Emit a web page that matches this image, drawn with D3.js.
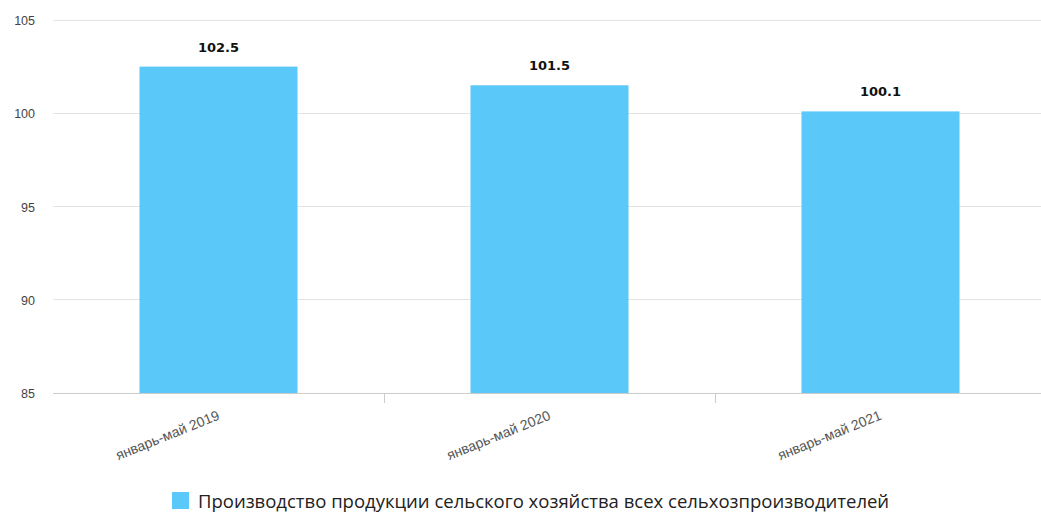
<!DOCTYPE html>
<html><head><meta charset="utf-8">
<script src="https://cdn.jsdelivr.net/npm/d3@7"></script>
<style>body{margin:0;background:#fff;}svg{display:block;}</style>
</head><body>
<svg id="c" width="1041" height="514"></svg>
<script>
const categories = ["январь-май 2019", "январь-май 2020", "январь-май 2021"];
const values = [102.5, 101.5, 100.1];
const yTicks = [85, 90, 95, 100, 105];
const seriesName = "Производство продукции сельского хозяйства всех сельхозпроизводителей";

const svg = d3.select("#c");
const x = d3.scaleBand().domain(categories).range([53, 1046]).paddingInner(0).paddingOuter(0);
const y = d3.scaleLinear().domain([85, 105]).range([393, 20]);
const barW = 158;
const color = "#5AC8F8";

// gridlines
svg.append("g").selectAll("line").data(yTicks).join("line")
  .attr("x1", 53).attr("x2", 1041)
  .attr("y1", d => y(d)).attr("y2", d => y(d))
  .attr("stroke", d => d === 85 ? "#cccccc" : "#e3e3e3").attr("stroke-width", 1)
  .attr("shape-rendering", "crispEdges");

// y labels
svg.append("g").selectAll("text").data(yTicks).join("text")
  .attr("x", 35).attr("y", d => y(d) + 5)
  .attr("text-anchor", "end")
  .attr("font-family", "Liberation Sans, Arial, sans-serif").attr("font-size", 12.5)
  .attr("fill", "#444").text(d => d);

// x ticks
svg.append("g").selectAll("line").data(categories.slice(1)).join("line")
  .attr("x1", d => x(d)).attr("x2", d => x(d))
  .attr("y1", 393).attr("y2", 403)
  .attr("stroke", "#ccc").attr("shape-rendering", "crispEdges");

// bars
svg.append("g").selectAll("rect").data(values).join("rect")
  .attr("x", (d, i) => x(categories[i]) + x.bandwidth() / 2 - barW / 2)
  .attr("width", barW)
  .attr("y", d => y(d)).attr("height", d => y(85) - y(d))
  .attr("fill", color);

// value labels
svg.append("g").selectAll("text").data(values).join("text")
  .attr("x", (d, i) => x(categories[i]) + x.bandwidth() / 2)
  .attr("y", d => y(d) - 15)
  .attr("text-anchor", "middle")
  .attr("font-family", "DejaVu Sans, sans-serif").attr("font-weight", "bold").attr("font-size", 13)
  .attr("fill", "#111").text(d => d.toFixed(1));

// x labels rotated
svg.append("g").selectAll("text").data(categories).join("text")
  .attr("transform", d => `translate(${x(d) + x.bandwidth() / 2 + 2},${419}) rotate(-22)`)
  .attr("text-anchor", "end")
  .attr("font-family", "Liberation Sans, Arial, sans-serif").attr("font-size", 14)
  .attr("fill", "#555").text(d => d);

// legend
const lg = svg.append("g");
lg.append("rect").attr("x", 172).attr("y", 492).attr("width", 17).attr("height", 17).attr("fill", color);
lg.append("text").attr("x", 198).attr("y", 508)
  .attr("font-family", "Open Sans, sans-serif").attr("font-size", 18.5)
  .attr("fill", "#222").text(seriesName);
</script>
</body></html>
